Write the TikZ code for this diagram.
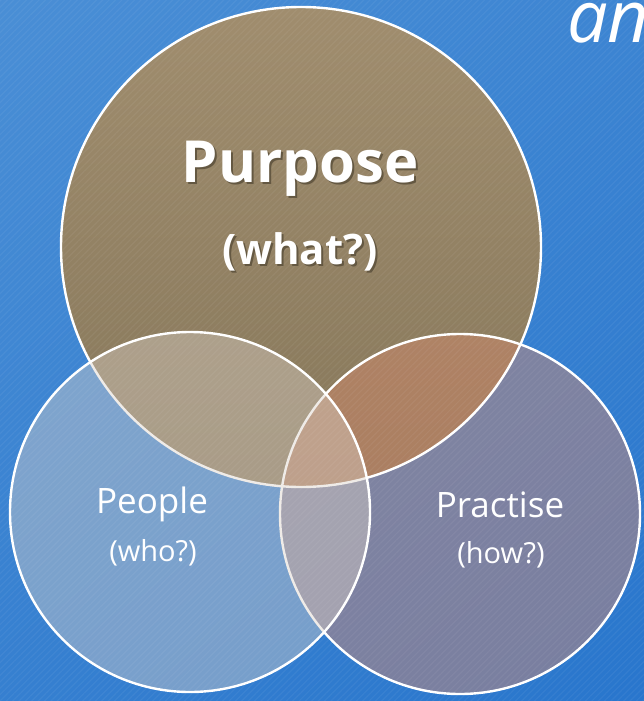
\documentclass[tikz,border=0pt]{standalone}
\usepackage{fontspec}
\setmainfont{Open Sans}
\usetikzlibrary{patterns.meta}
\definecolor{bgA}{RGB}{76,144,214}
\definecolor{bgB}{RGB}{38,116,204}
\definecolor{brownA}{RGB}{160,141,110}
\definecolor{brownB}{RGB}{134,119,90}
\definecolor{peopleC}{RGB}{218,208,199}
\definecolor{practC}{RGB}{215,137,107}
\definecolor{shadowC}{RGB}{100,88,66}
\newcommand{\shadowtext}[1]{\makebox[0pt][l]{\raisebox{-2pt}{\hspace{2pt}\textcolor{shadowC}{#1}}}#1}
\tikzset{
  ring/.style={draw=white, line width=2.4pt},
  lbl/.style={text=white, inner sep=0pt, anchor=base},
}
\begin{document}
\begin{tikzpicture}[x=1pt,y=1pt]
\useasboundingbox (0,0) rectangle (644,-701);
\begin{scope}
\clip (0,0) rectangle (644,-701);
\shade[shading=axis, top color=bgA, bottom color=bgB, shading angle=35] (-200,200) rectangle (844,-901);
\node[lbl, anchor=base west, font=\itshape\fontsize{72}{72}\selectfont] (an) at (567,-43) {an};
% Purpose
\shade[top color=brownA, bottom color=brownB] (301,-247) circle[radius=240];
% Practise
\fill[practC, fill opacity=0.46] (460,-514) circle[radius=180];
\draw[ring] (301,-247) circle[radius=240];
\draw[ring] (460,-514) circle[radius=180];
% People
\fill[peopleC, fill opacity=0.42] (190,-512) circle[radius=180];
\draw[ring] (190,-512) circle[radius=180];
% stripes
\fill[pattern={Lines[angle=45,distance=4.5pt,line width=1.2pt]}, pattern color=white, opacity=0.05] (0,0) rectangle (644,-701);
\end{scope}
% texts
\node[lbl, font=\bfseries\fontsize{58}{58}\selectfont] (purpose) at (300,-182) {\shadowtext{Purpose}};
\node[lbl, font=\bfseries\fontsize{42}{42}\selectfont] (what) at (300,-264) {\shadowtext{(what?)}};
\node[lbl, font=\fontsize{35}{35}\selectfont] (people) at (152,-513) {People};
\node[lbl, font=\fontsize{29}{29}\selectfont] (who) at (153,-561) {(who?)};
\node[lbl, font=\fontsize{35}{35}\selectfont] (practise) at (500,-517) {Practise};
\node[lbl, font=\fontsize{29}{29}\selectfont] (how) at (501,-563) {(how?)};
\end{tikzpicture}
\end{document}
